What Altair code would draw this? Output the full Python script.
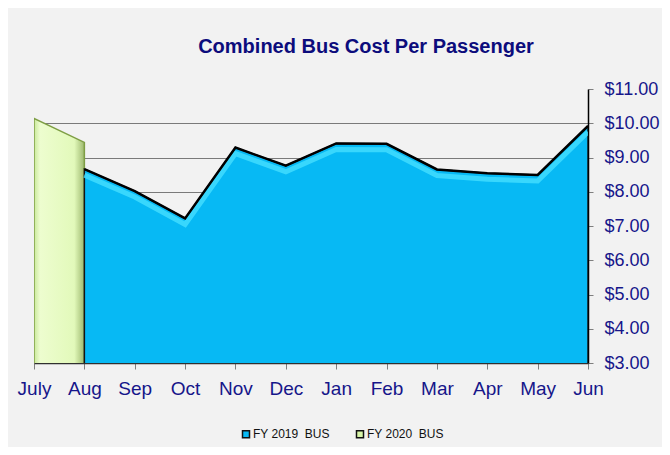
import altair as alt
import pandas as pd

months = ["July", "Aug", "Sep", "Oct", "Nov", "Dec", "Jan", "Feb", "Mar", "Apr", "May", "Jun"]
fy2019_months = ["Aug", "Sep", "Oct", "Nov", "Dec", "Jan", "Feb", "Mar", "Apr", "May", "Jun"]
fy2019_values = [8.66, 8.02, 7.22, 9.29, 8.76, 9.41, 9.40, 8.65, 8.54, 8.49, 9.92]
fy2020_months = ["July", "Aug"]
fy2020_values = [10.14, 9.44]
series_names = ["FY 2019 \u00a0BUS", "FY 2020 \u00a0BUS"]
series_colors = ["#07B9F4", "#D8F5A8"]
y_ticks = [3, 4, 5, 6, 7, 8, 9, 10, 11]

df19 = pd.DataFrame({"month": fy2019_months, "value": fy2019_values})
df20 = pd.DataFrame({"month": fy2020_months, "value": fy2020_values})
dleg = pd.DataFrame({"series": series_names})

FONT = "Liberation Sans"
NAVY = "#16168a"

x_enc = alt.X(
    "month:O",
    sort=months,
    scale=alt.Scale(type="point", domain=months, padding=0),
    axis=alt.Axis(
        title=None, labelAngle=0, labelFont=FONT, labelFontSize=19,
        labelColor=NAVY, labelPadding=10, tickColor="#7f7f7f", tickSize=6,
        domainColor="#303030", domainWidth=1.5, grid=False,
    ),
)
y_enc = alt.Y(
    "value:Q",
    scale=alt.Scale(domain=[3, 11], zero=False, nice=False),
    axis=alt.Axis(
        title=None, orient="right", values=y_ticks, format="$.2f",
        labelFont=FONT, labelFontSize=18, labelColor=NAVY, labelPadding=11,
        tickColor="#7f7f7f", tickSize=5, domainColor="#000000", domainWidth=1.5,
        grid=True, gridColor="#7a7a7a", gridWidth=1,
        gridOpacity={"condition": {"test": "datum.value >= 11", "value": 0}, "value": 1},
    ),
)

green_fill = {
    "gradient": "linear", "x1": 0, "y1": 0, "x2": 1, "y2": 0,
    "stops": [
        {"offset": 0.0, "color": "#C9E89A"},
        {"offset": 0.12, "color": "#EDFDCF"},
        {"offset": 0.8, "color": "#E2F9BA"},
        {"offset": 1.0, "color": "#9DB86E"},
    ],
}
blue_fill = {
    "gradient": "linear", "x1": 0, "y1": 0, "x2": 0, "y2": 1,
    "stops": [
        {"offset": 0.0, "color": "#07B9F4"},
        {"offset": 0.9, "color": "#07B9F4"},
        {"offset": 0.95, "color": "#0789B5"},
        {"offset": 1.0, "color": "#153540"},
    ],
}

green_area = alt.Chart(df20).mark_area(
    fill=green_fill, stroke="#7E9E44", strokeWidth=1.5, clip=True
).encode(x=x_enc, y=y_enc)

blue_area = alt.Chart(df19).mark_area(
    fill=blue_fill, stroke="#151515", strokeWidth=1.5, clip=True
).encode(x=x_enc, y=y_enc)

highlight = alt.Chart(df19).mark_line(
    color="#45DEFF", strokeWidth=5, yOffset=6, opacity=0.8, clip=True
).encode(x=x_enc, y=y_enc)

top_line = alt.Chart(df19).mark_line(
    color="#000000", strokeWidth=2.5, clip=True
).encode(x=x_enc, y=y_enc)

legend_layer = alt.Chart(dleg).mark_square(opacity=0).encode(
    color=alt.Color(
        "series:N",
        scale=alt.Scale(domain=series_names, range=series_colors),
        legend=alt.Legend(
            title=None, orient="none", direction="horizontal",
            legendX=206, legendY=339, symbolType="square", symbolSize=49,
            symbolOpacity=1, symbolStrokeColor="#111111", symbolStrokeWidth=1.5,
            labelFont=FONT, labelFontSize=12, labelColor="#111111",
            labelOffset=1, columnPadding=23, padding=0,
        ),
    )
)

chart = alt.layer(green_area, blue_area, highlight, top_line, legend_layer).properties(
    width=554,
    height=274,
    title=alt.TitleParams(
        "Combined Bus Cost Per Passenger", font=FONT, fontSize=20,
        fontWeight="bold", color="#0c0c7c", anchor="middle", dx=55,
        frame="group", offset=7, baseline="alphabetic",
    ),
    autosize=alt.AutoSizeParams(type="none"),
    padding={"left": 26, "top": 81, "right": 74, "bottom": 84},
    background="#f2f2f2",
).configure_view(fill="white", stroke=None)

chart.save("out.html", embed_options={"renderer": "svg", "actions": False})
